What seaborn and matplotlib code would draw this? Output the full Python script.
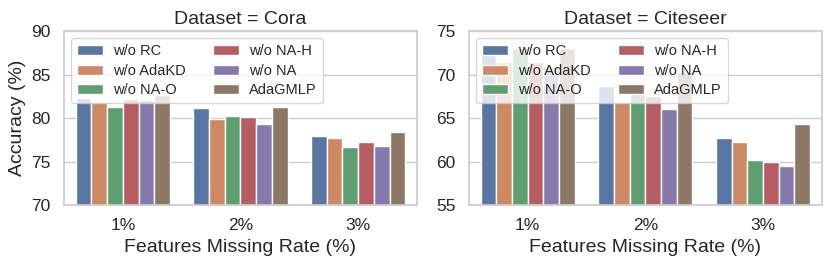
import matplotlib
matplotlib.use("Agg")
import matplotlib.pyplot as plt
import seaborn as sns
import pandas as pd

rates = ["1%", "2%", "3%"]
variants = ["w/o RC", "w/o AdaKD", "w/o NA-O", "w/o NA-H", "w/o NA", "AdaGMLP"]

cora = {
    "w/o RC":    [82.3, 81.2, 77.95],
    "w/o AdaKD": [81.85, 79.95, 77.7],
    "w/o NA-O":  [81.25, 80.25, 76.7],
    "w/o NA-H":  [82.2, 80.1, 77.3],
    "w/o NA":    [82.1, 79.35, 76.8],
    "AdaGMLP":   [82.65, 81.25, 78.45],
}
citeseer = {
    "w/o RC":    [72.45, 68.7, 62.7],
    "w/o AdaKD": [71.5, 66.85, 62.25],
    "w/o NA-O":  [73.05, 68.7, 60.15],
    "w/o NA-H":  [71.4, 67.55, 59.9],
    "w/o NA":    [71.0, 66.0, 59.55],
    "AdaGMLP":   [73.05, 70.35, 64.3],
}
datasets = ["Cora", "Citeseer"]
ylims = [(70, 90), (55, 75)]

rows = []
for name, d in zip(datasets, [cora, citeseer]):
    for v in variants:
        for r, val in zip(rates, d[v]):
            rows.append({"Dataset": name, "Rate": r, "Method": v, "Accuracy": val})
df = pd.DataFrame(rows)

sns.set_theme(style="whitegrid", palette="deep")
plt.rcParams["font.family"] = ["Liberation Sans", "DejaVu Sans"]

fig, axes = plt.subplots(1, 2, figsize=(8.31, 2.66), dpi=100)
for ax, name, yl in zip(axes, datasets, ylims):
    sub = df[df["Dataset"] == name]
    sns.barplot(data=sub, x="Rate", y="Accuracy", hue="Method",
                order=rates, hue_order=variants, ax=ax)
    ax.set_ylim(*yl)
    ax.set_title(f"Dataset = {name}", fontsize=14, pad=5)
    ax.set_xlabel("Features Missing Rate (%)", fontsize=14)
    ax.tick_params(axis="both", labelsize=12.5)
    ax.legend(loc="upper left", ncol=2, fontsize=10.5, title=None,
              handlelength=1.78, columnspacing=1.9, labelspacing=0.38,
              handletextpad=0.68)
axes[0].set_ylabel("Accuracy (%)", fontsize=14)
axes[1].set_ylabel("")

fig.subplots_adjust(left=0.077, right=0.989, top=0.883, bottom=0.229, wspace=0.147)
fig.savefig("out.png", dpi=100)
